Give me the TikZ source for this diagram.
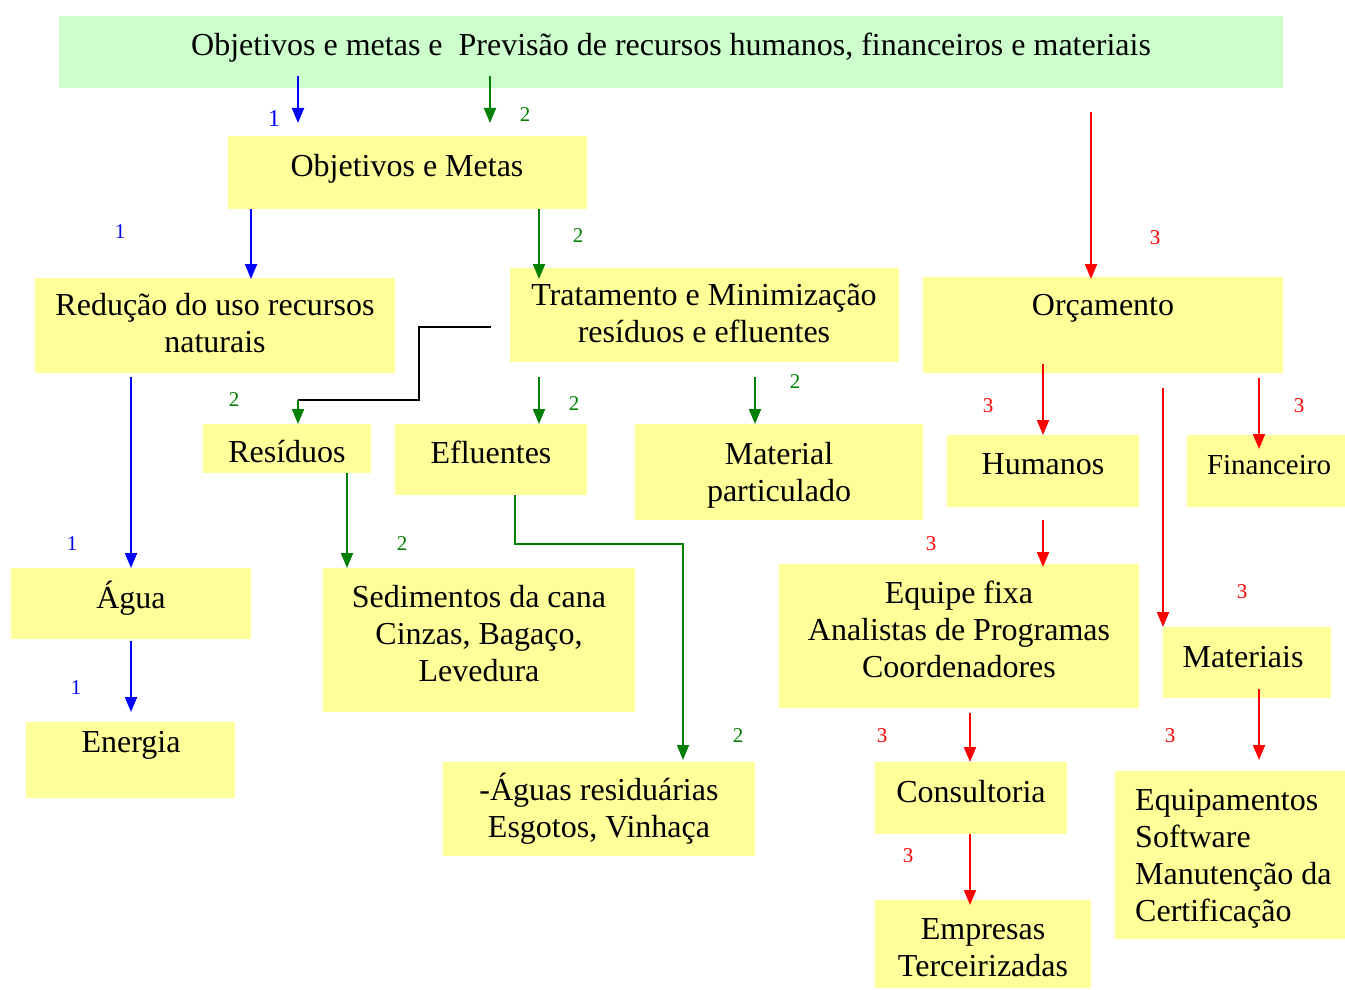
\documentclass[tikz,border=0pt]{standalone}
\usepackage{fontspec}
\setmainfont{Liberation Serif}
\usetikzlibrary{arrows.meta}
\definecolor{boxyellow}{HTML}{FFFF99}
\definecolor{boxgreen}{HTML}{CCFFCC}
\definecolor{arrgreen}{HTML}{008000}
\begin{document}
\begin{tikzpicture}[x=1pt,y=-1pt,
  ybox/.style={fill=boxyellow, draw=none, inner sep=0pt, anchor=north west},
  txt/.style={font=\fontsize{32}{37}\selectfont, inner sep=0pt, anchor=base, align=center},
  num/.style={font=\fontsize{21}{24}\selectfont, inner sep=0pt},
  arr/.style={line width=2pt, -{Triangle[length=15pt,width=12pt]}},
  arrB/.style={arr, blue}, arrG/.style={arr, arrgreen}, arrR/.style={arr, red}]
\useasboundingbox (0,0) rectangle (1345,990);
% boxes
\node[ybox, fill=boxgreen, minimum width=1224pt, minimum height=72pt] (top) at (59,16) {};
\node[ybox, minimum width=359pt, minimum height=73pt] (om) at (228,136) {};
\node[ybox, minimum width=360pt, minimum height=95pt] (red) at (35,278) {};
\node[ybox, minimum width=389pt, minimum height=94pt] (trat) at (510,268) {};
\node[ybox, minimum width=360pt, minimum height=96pt] (orc) at (923,277) {};
\node[ybox, minimum width=168pt, minimum height=49pt] (res) at (203,424) {};
\node[ybox, minimum width=192pt, minimum height=71pt] (efl) at (395,424) {};
\node[ybox, minimum width=288pt, minimum height=96pt] (mat) at (635,424) {};
\node[ybox, minimum width=192pt, minimum height=72pt] (hum) at (947,435) {};
\node[ybox, minimum width=158pt, minimum height=72pt] (fin) at (1187,435) {};
\node[ybox, minimum width=240pt, minimum height=71pt] (agua) at (11,568) {};
\node[ybox, minimum width=312pt, minimum height=144pt] (sed) at (323,568) {};
\node[ybox, minimum width=360pt, minimum height=144pt] (equ) at (779,564) {};
\node[ybox, minimum width=168pt, minimum height=71pt] (mats) at (1163,627) {};
\node[ybox, minimum width=209pt, minimum height=76pt] (ene) at (26,722) {};
\node[ybox, minimum width=312pt, minimum height=94pt] (aguas) at (443,762) {};
\node[ybox, minimum width=192pt, minimum height=72pt] (cons) at (875,762) {};
\node[ybox, minimum width=230pt, minimum height=168pt] (equip) at (1115,771) {};
\node[ybox, minimum width=216pt, minimum height=88pt] (emp) at (875,900) {};
% texts (anchor base = baseline of the last line)
\node[txt] (ttop) at (671,56) {Objetivos e metas e \ Previsão de recursos humanos, financeiros e materiais};
\node[txt] (tom) at (407,176) {Objetivos e Metas};
\node[txt] (tred) at (215,352) {Redução do uso recursos\\naturais};
\node[txt] (ttrat) at (704,342) {Tratamento e Minimização\\resíduos e efluentes};
\node[txt] (torc) at (1103,315) {Orçamento};
\node[txt] (tres) at (287,462) {Resíduos};
\node[txt] (tefl) at (491,463) {Efluentes};
\node[txt] (tmat) at (779,501) {Material\\particulado};
\node[txt] (thum) at (1043,474) {Humanos};
\node[txt, font=\fontsize{29}{34}\selectfont] (tfin) at (1269,474) {Financeiro};
\node[txt] (tagua) at (131,608) {Água};
\node[txt] (tsed) at (479,681) {Sedimentos da cana\\Cinzas, Bagaço,\\Levedura};
\node[txt] (tequ) at (959,677) {Equipe fixa\\Analistas de Programas\\Coordenadores};
\node[txt] (tmats) at (1243,667) {Materiais};
\node[txt] (tene) at (131,752) {Energia};
\node[txt] (taguas) at (599,837) {-Águas residuárias\\Esgotos, Vinhaça};
\node[txt] (tcons) at (971,802) {Consultoria};
\node[txt, anchor=base west, align=left] (tequip) at (1135,921) {Equipamentos\\Software\\Manutenção da\\Certificação};
\node[txt] (temp) at (983,976) {Empresas\\Terceirizadas};
% connectors
\draw[arrB, shorten <=-12pt, shorten >=13pt] (top.south -| 298,0) -- (om.north -| 298,0);
\draw[arrG, shorten <=-12pt, shorten >=13pt] (top.south -| 490,0) -- (om.north -| 490,0);
\draw[arrR, shorten <=24pt, shorten >=-2pt] (top.south -| 1091,0) -- (orc.north -| 1091,0);
\draw[arrB, shorten >=-1pt] (om.south -| 251,0) -- (red.north -| 251,0);
\draw[arrG, shorten >=-11pt] (om.south -| 539,0) -- (trat.north -| 539,0);
\coordinate (rj) at (298,400);
\draw[line width=2pt, shorten <=19pt] (trat.west |- 0,327) -- (419,327) -- (419,400) -- (rj);
\draw[arrG] (rj) -- (res.north -| rj);
\draw[arrG, shorten <=15pt] (trat.south -| 539,0) -- (efl.north -| 539,0);
\draw[arrG, shorten <=15pt] (trat.south -| 755,0) -- (mat.north -| 755,0);
\draw[arrB, shorten <=4pt] (red.south -| 131,0) -- (agua.north -| 131,0);
\draw[arrG] (res.south -| 347,0) -- (sed.north -| 347,0);
\draw[arrG, line width=1.5pt, shorten >=2pt] (efl.south -| 515,0) -- (515,544) -- (683,544) -- (aguas.north -| 683,0);
\draw[arrB, shorten <=2pt, shorten >=10pt] (agua.south -| 131,0) -- (ene.north -| 131,0);
\draw[arrR, shorten <=-9pt] (orc.south -| 1043,0) -- (hum.north -| 1043,0);
\draw[arrR, shorten <=5pt, shorten >=-14pt] (orc.south -| 1259,0) -- (fin.north -| 1259,0);
\draw[arrR, shorten <=15pt] (orc.south -| 1163,0) -- (mats.north -| 1163,0);
\draw[arrR, shorten <=13pt, shorten >=-3pt] (hum.south -| 1043,0) -- (equ.north -| 1043,0);
\draw[arrR, shorten <=5pt] (equ.south -| 970,0) -- (cons.north -| 970,0);
\draw[arrR, shorten <=-9pt, shorten >=11pt] (mats.south -| 1259,0) -- (equip.north -| 1259,0);
\draw[arrR, shorten >=-5pt] (cons.south -| 970,0) -- (emp.north -| 970,0);
% numbers
\node[num, blue, font=\fontsize{24}{26}\selectfont] (n1) at (274,119) {1};
\node[num, arrgreen] (n2) at (525,115) {2};
\node[num, red] (n3) at (1155,238) {3};
\node[num, blue] (n4) at (120,232) {1};
\node[num, arrgreen] (n5) at (578,236) {2};
\node[num, arrgreen] (n6) at (234,400) {2};
\node[num, arrgreen] (n7) at (574,404) {2};
\node[num, arrgreen] (n8) at (795,382) {2};
\node[num, blue] (n9) at (72,544) {1};
\node[num, arrgreen] (n10) at (402,544) {2};
\node[num, arrgreen] (n11) at (738,736) {2};
\node[num, blue] (n12) at (76,688) {1};
\node[num, red] (n13) at (988,406) {3};
\node[num, red] (n14) at (1299,406) {3};
\node[num, red] (n15) at (1242,592) {3};
\node[num, red] (n16) at (931,544) {3};
\node[num, red] (n17) at (882,736) {3};
\node[num, red] (n18) at (1170,736) {3};
\node[num, red] (n19) at (908,856) {3};
\end{tikzpicture}
\end{document}
